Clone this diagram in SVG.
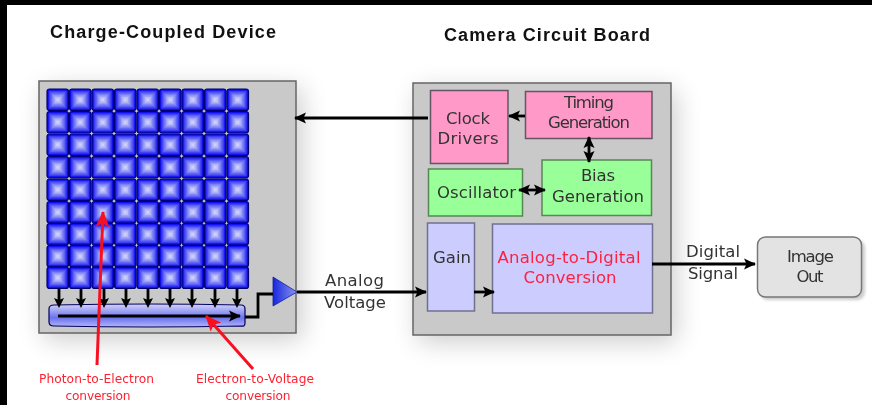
<svg xmlns="http://www.w3.org/2000/svg" xmlns:xlink="http://www.w3.org/1999/xlink" width="872" height="405" viewBox="0 0 872 405">
<style>
text{font-family:"DejaVu Sans",Verdana,sans-serif;font-size:16.5px;fill:#333;text-anchor:middle}
.title{font-family:"Liberation Sans",Arial,sans-serif;font-weight:bold;font-size:18px;fill:#111}
.red{fill:#ff2040}
.small{font-size:12.2px;fill:#ff2030}
.panel{fill:#c9c9c9;stroke:#666;stroke-width:1.5}
.pink{fill:#ff99c8;stroke:#665566;stroke-width:1.5}
.green{fill:#99ff99;stroke:#558855;stroke-width:1.5}
.lilac{fill:#ccccff;stroke:#707090;stroke-width:1.5}
.line{fill:none;stroke:#000;stroke-width:2.8}
.redline{fill:none;stroke:#f81020;stroke-width:3}
</style>
<defs>
<filter id="sh" x="-30%" y="-30%" width="160%" height="160%"><feGaussianBlur stdDeviation="13"/></filter>
<filter id="sh2" x="-20%" y="-20%" width="140%" height="140%"><feGaussianBlur stdDeviation="1.5"/></filter>
<marker id="a" viewBox="0 0 12 12" refX="11" refY="6" markerWidth="12" markerHeight="12" markerUnits="userSpaceOnUse" orient="auto-start-reverse"><path d="M0 0.500L12 6L0 11.500L2.500 6Z" fill="#000"/></marker>
<marker id="r" viewBox="0 0 16 14" refX="15" refY="7" markerWidth="16" markerHeight="14" markerUnits="userSpaceOnUse" orient="auto"><path d="M0 0L16 7L0 14L3.500 7Z" fill="#f81020"/></marker>
<linearGradient id="bar" x1="0" y1="0" x2="0" y2="1"><stop offset="0" stop-color="#d4d4f8"/><stop offset=".6" stop-color="#6a72ee"/><stop offset="1" stop-color="#b4b8f4"/></linearGradient>
<linearGradient id="tri" x1="0" y1="0" x2="1" y2="0"><stop offset="0" stop-color="#1626e0"/><stop offset="1" stop-color="#8c96ee"/></linearGradient>
<g id="c">
<rect x="0" y="0" width="21.500" height="21.500" rx="2.500" fill="#1010f0" stroke="#000070" stroke-width="1.200"/>
<rect x="1.800" y="1.800" width="17.900" height="17.900" fill="#3c3cf4"/>
<rect x="3.300" y="3.300" width="14.900" height="14.900" fill="#5c60f4"/>
<rect x="4.800" y="4.800" width="11.900" height="11.900" fill="#7c80f5"/>
<rect x="6.300" y="6.300" width="8.900" height="8.900" fill="#9a9ef7"/>
<rect x="7.800" y="7.800" width="5.900" height="5.900" fill="#b8bcfa"/>
<rect x="9.300" y="9.300" width="2.900" height="2.900" fill="#ccd0fb"/>
</g>
</defs>
<rect width="872" height="405" fill="#fff"/>
<path d="M0 0H872V5H7V405H0Z" fill="#000"/>
<g id="shadows" fill="#000" opacity=".2">
<rect x="44" y="88" width="258" height="252" filter="url(#sh)"/>
<rect x="418" y="90" width="258" height="252" filter="url(#sh)"/>
<rect x="760" y="240" width="105" height="60" rx="8" filter="url(#sh2)"/>
</g>
<text class="title" x="163" y="38" textLength="226">Charge-Coupled Device</text>
<text class="title" x="547" y="41" textLength="206">Camera Circuit Board</text>
<g id="ccd">
<rect class="panel" x="39" y="81" width="257" height="252"/>
<g id="cells">
<use xlink:href="#c" x="47" y="89"/><use xlink:href="#c" x="69.500" y="89"/><use xlink:href="#c" x="92" y="89"/><use xlink:href="#c" x="114.500" y="89"/><use xlink:href="#c" x="137" y="89"/><use xlink:href="#c" x="159.500" y="89"/><use xlink:href="#c" x="182" y="89"/><use xlink:href="#c" x="204.500" y="89"/><use xlink:href="#c" x="227" y="89"/>
<use xlink:href="#c" x="47" y="111.500"/><use xlink:href="#c" x="69.500" y="111.500"/><use xlink:href="#c" x="92" y="111.500"/><use xlink:href="#c" x="114.500" y="111.500"/><use xlink:href="#c" x="137" y="111.500"/><use xlink:href="#c" x="159.500" y="111.500"/><use xlink:href="#c" x="182" y="111.500"/><use xlink:href="#c" x="204.500" y="111.500"/><use xlink:href="#c" x="227" y="111.500"/>
<use xlink:href="#c" x="47" y="134"/><use xlink:href="#c" x="69.500" y="134"/><use xlink:href="#c" x="92" y="134"/><use xlink:href="#c" x="114.500" y="134"/><use xlink:href="#c" x="137" y="134"/><use xlink:href="#c" x="159.500" y="134"/><use xlink:href="#c" x="182" y="134"/><use xlink:href="#c" x="204.500" y="134"/><use xlink:href="#c" x="227" y="134"/>
<use xlink:href="#c" x="47" y="156.500"/><use xlink:href="#c" x="69.500" y="156.500"/><use xlink:href="#c" x="92" y="156.500"/><use xlink:href="#c" x="114.500" y="156.500"/><use xlink:href="#c" x="137" y="156.500"/><use xlink:href="#c" x="159.500" y="156.500"/><use xlink:href="#c" x="182" y="156.500"/><use xlink:href="#c" x="204.500" y="156.500"/><use xlink:href="#c" x="227" y="156.500"/>
<use xlink:href="#c" x="47" y="179"/><use xlink:href="#c" x="69.500" y="179"/><use xlink:href="#c" x="92" y="179"/><use xlink:href="#c" x="114.500" y="179"/><use xlink:href="#c" x="137" y="179"/><use xlink:href="#c" x="159.500" y="179"/><use xlink:href="#c" x="182" y="179"/><use xlink:href="#c" x="204.500" y="179"/><use xlink:href="#c" x="227" y="179"/>
<use xlink:href="#c" x="47" y="201.500"/><use xlink:href="#c" x="69.500" y="201.500"/><use xlink:href="#c" x="92" y="201.500"/><use xlink:href="#c" x="114.500" y="201.500"/><use xlink:href="#c" x="137" y="201.500"/><use xlink:href="#c" x="159.500" y="201.500"/><use xlink:href="#c" x="182" y="201.500"/><use xlink:href="#c" x="204.500" y="201.500"/><use xlink:href="#c" x="227" y="201.500"/>
<use xlink:href="#c" x="47" y="223.500"/><use xlink:href="#c" x="69.500" y="223.500"/><use xlink:href="#c" x="92" y="223.500"/><use xlink:href="#c" x="114.500" y="223.500"/><use xlink:href="#c" x="137" y="223.500"/><use xlink:href="#c" x="159.500" y="223.500"/><use xlink:href="#c" x="182" y="223.500"/><use xlink:href="#c" x="204.500" y="223.500"/><use xlink:href="#c" x="227" y="223.500"/>
<use xlink:href="#c" x="47" y="245.500"/><use xlink:href="#c" x="69.500" y="245.500"/><use xlink:href="#c" x="92" y="245.500"/><use xlink:href="#c" x="114.500" y="245.500"/><use xlink:href="#c" x="137" y="245.500"/><use xlink:href="#c" x="159.500" y="245.500"/><use xlink:href="#c" x="182" y="245.500"/><use xlink:href="#c" x="204.500" y="245.500"/><use xlink:href="#c" x="227" y="245.500"/>
<use xlink:href="#c" x="47" y="267"/><use xlink:href="#c" x="69.500" y="267"/><use xlink:href="#c" x="92" y="267"/><use xlink:href="#c" x="114.500" y="267"/><use xlink:href="#c" x="137" y="267"/><use xlink:href="#c" x="159.500" y="267"/><use xlink:href="#c" x="182" y="267"/><use xlink:href="#c" x="204.500" y="267"/><use xlink:href="#c" x="227" y="267"/>
</g>
<path d="M49 309Q49 305 54 305Q150 303 241 305Q245 305 245 309V323Q245 327 241 326Q150 328 54 326Q49 326 49 322Z" fill="url(#bar)" stroke="#000060" stroke-width="1.200"/>
<path d="M273 277L297 292L273 306Z" fill="url(#tri)" stroke="#1020a0" stroke-width=".8"/>
</g>
<g id="board">
<rect class="panel" x="413" y="83" width="258" height="252"/>
</g>
<g id="clock-drivers"><rect class="pink" x="430.500" y="90.500" width="77.500" height="73"/><text x="468" y="124" textLength="44">Clock</text><text x="468" y="144" textLength="61">Drivers</text></g>
<g id="timing-generation"><rect class="pink" x="525.500" y="91.500" width="126.500" height="47"/><text x="589" y="108" textLength="50">Timing</text><text x="589" y="128" textLength="82">Generation</text></g>
<g id="oscillator"><rect class="green" x="428.500" y="169" width="94" height="47"/><text x="476.500" y="198" textLength="79">Oscillator</text></g>
<g id="bias-generation"><rect class="green" x="542" y="160" width="109.500" height="55.500"/><text x="598" y="181" textLength="34">Bias</text><text x="598" y="202" textLength="92">Generation</text></g>
<g id="gain"><rect class="lilac" x="427.500" y="223" width="47" height="88"/><text x="452" y="263" textLength="38">Gain</text></g>
<g id="adc"><rect class="lilac" x="492.500" y="224" width="160" height="89"/><text class="red" x="569" y="263" textLength="143">Analog-to-Digital</text><text class="red" x="570" y="283" textLength="93">Conversion</text></g>
<g id="image-out"><rect x="757.500" y="237" width="104" height="60" rx="8" fill="#e3e3e3" stroke="#777" stroke-width="1.500"/><text x="810.500" y="262" textLength="47">Image</text><text x="810" y="282" textLength="27">Out</text></g>
<g id="connectors">
<path class="line" d="M59 289V300M81 289V300M104 289V300M126 289V300M148 289V300M170 289V300M192 289V300M215 289V300M237 289V300"/>
<path d="M54 298L59 300L64 298L59 308ZM76 298L81 300L86 298L81 308ZM99 298L104 300L109 298L104 308ZM121 298L126 300L131 298L126 308ZM143 298L148 300L153 298L148 308ZM165 298L170 300L175 298L170 308ZM187 298L192 300L197 298L192 308ZM210 298L215 300L220 298L215 308ZM232 298L237 300L242 298L237 308Z" fill="#000"/>
<path class="line" d="M58 316H240" marker-end="url(#a)"/>
<path class="line" d="M245 317H258V294H273"/>
<path class="line" d="M297 292H426" marker-end="url(#a)"/>
<path class="line" d="M428 118H295" marker-end="url(#a)"/>
<path class="line" d="M525 116H509" marker-end="url(#a)"/>
<path class="line" d="M589 137V162" marker-start="url(#a)" marker-end="url(#a)"/>
<path class="line" d="M519 190H545" marker-start="url(#a)" marker-end="url(#a)"/>
<path class="line" d="M474 292H494" marker-end="url(#a)"/>
<path class="line" d="M652 264H755" marker-end="url(#a)"/>
<path class="redline" d="M97 365L103 212" marker-end="url(#r)"/>
<path class="redline" d="M253 369L206 316" marker-end="url(#r)"/>
</g>
<g id="labels">
<text x="354.500" y="286" textLength="59">Analog</text><text x="355" y="308" textLength="62">Voltage</text>
<text x="713" y="257" textLength="54">Digital</text><text x="713" y="279" textLength="50">Signal</text>
<text class="small" x="96.500" y="383" textLength="115">Photon-to-Electron</text><text class="small" x="98" y="400" textLength="65">conversion</text>
<text class="small" x="255" y="383" textLength="118">Electron-to-Voltage</text><text class="small" x="258" y="400" textLength="65">conversion</text>
</g>
</svg>
